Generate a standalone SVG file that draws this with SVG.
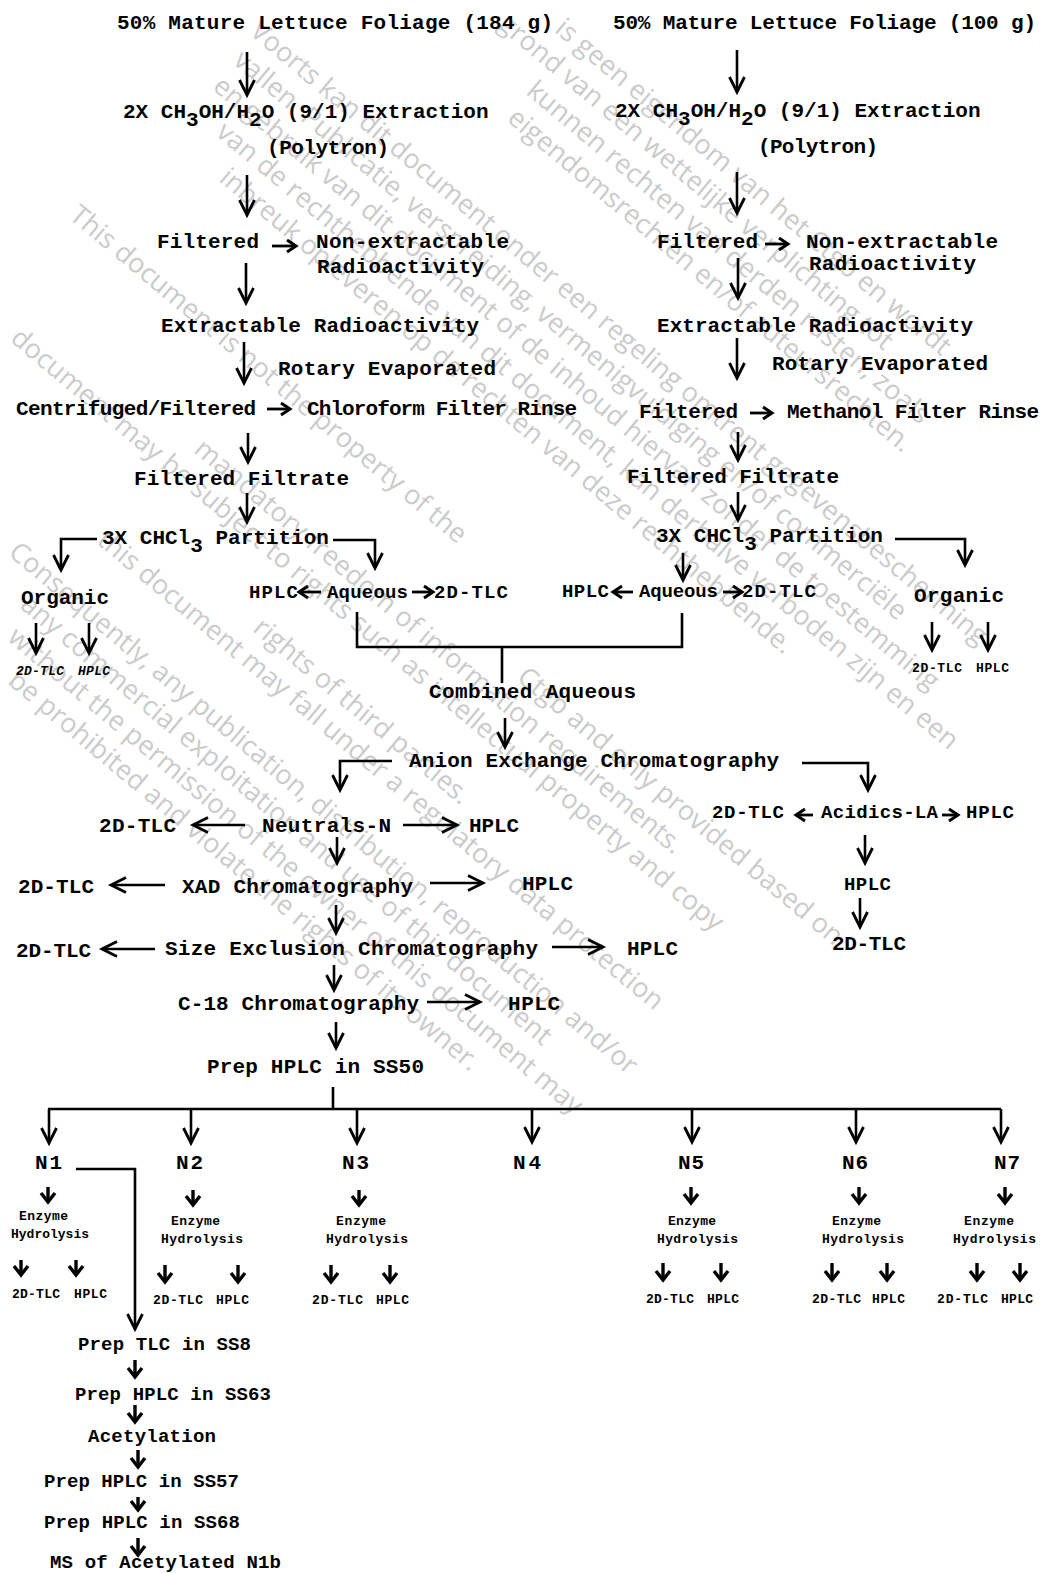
<svg xmlns="http://www.w3.org/2000/svg" width="1052" height="1573" viewBox="0 0 1052 1573">
<defs>
<style>
.t{font-family:"Liberation Mono","Courier New",monospace;font-weight:bold;font-size:21px;fill:#000}
.m{font-size:19px}
.s{font-size:13px}
.i{font-style:italic}
.c{fill:none;stroke:#000;stroke-width:2.6}
.h{fill:none;stroke:#000;stroke-width:2.8}
.c2{fill:none;stroke:#000;stroke-width:3.4}
.w{font-family:"Open Sans","Noto Sans",sans-serif;font-size:27px;fill:#cbcbcb}
</style>
<marker id="ah" markerUnits="userSpaceOnUse" viewBox="-18 -10 20 20" markerWidth="20" markerHeight="20" refX="0" refY="0" orient="auto" overflow="visible"><path d="M-15,-7.5 L0,0 L-15,7.5" fill="none" stroke="#000" stroke-width="2.8"/></marker>
<marker id="hm" markerUnits="userSpaceOnUse" viewBox="-12 -8 14 16" markerWidth="14" markerHeight="16" refX="0" refY="0" orient="auto" overflow="visible"><path d="M-9,-6 L0,0 L-9,6" fill="none" stroke="#000" stroke-width="3"/></marker>
<marker id="hs" markerUnits="userSpaceOnUse" viewBox="-12 -9 14 18" markerWidth="14" markerHeight="18" refX="0" refY="0" orient="auto" overflow="visible"><path d="M-9,-7 L0,0 L-9,7" fill="none" stroke="#000" stroke-width="3.4"/></marker>
</defs>
<rect width="1052" height="1573" fill="#fff"/>

<g id="watermark" transform="rotate(40)">
<text class="w" x="444" y="-332">is geen eigendom van het Ctgb en wordt</text>
<text class="w" x="398" y="-299">grond van een wettelijke verplichting tot</text>
<text class="w" x="462" y="-266">kunnen rechten van derden rusten, zoals</text>
<text class="w" x="465" y="-233">eigendomsrechten en/of auteursrechten.</text>
<text class="w" x="212" y="-134">Voorts kan dit document onder een regeling omtrent gegevensbescherming</text>
<text class="w" x="218" y="-101">vallen. Publicatie, verspreiding, vermenigvuldiging en/of commerciële</text>
<text class="w" x="219" y="-68">en gebruik van dit document of de inhoud hiervan zonder de toestemming</text>
<text class="w" x="251" y="-35">van de rechthebbende van dit document, kan derhalve verboden zijn en een</text>
<text class="w" x="283" y="-2">inbreuk opleveren op de rechten van deze rechthebbende.</text>
<text class="w" x="192" y="123">This document is not the property of the</text>
<text class="w" x="832" y="189">Ctgb and only provided based on</text>
<text class="w" x="438" y="222">mandatory freedom of information requirements.</text>
<text class="w" x="226" y="255">document may be subject to rights such as intellectual property and copy</text>
<text class="w" x="598" y="321">rights of third parties.</text>
<text class="w" x="422" y="354">this document may fall under a regulatory data protection</text>
<text class="w" x="362" y="420">Consequently, any publication, distribution, reproduction and/or</text>
<text class="w" x="405" y="453">any commercial exploitation and use of this document</text>
<text class="w" x="416" y="486">without the permission of the owner of this document may</text>
<text class="w" x="444" y="519">be prohibited and violate the rights of its owner.</text>
</g>

<g id="connectors">
<g class="c" marker-end="url(#ah)">
<path d="M247,52V95"/><path d="M247,175V215"/><path d="M246,263V303"/><path d="M244,342V383"/><path d="M248,433V462"/><path d="M247,493V522"/>
<path d="M97,539H61V570"/><path d="M333,540H375V568"/>
<path d="M505,718V747"/>
<path d="M392,761H340V790"/><path d="M802,763H868V790"/>
<path d="M337,837V863"/><path d="M336,905V933"/><path d="M334,965V990"/><path d="M336,1022V1048"/>
<path d="M737,50V92"/><path d="M737,172V213"/><path d="M738,258V298"/><path d="M737,338V378"/><path d="M738,432V460"/><path d="M738,492V520"/>
<path d="M895,539H965V565"/><path d="M683,553V580"/>
<path d="M865,835V863"/><path d="M860,898V927"/>
<path d="M36,623V653"/><path d="M89,623V653"/><path d="M932,622V650"/><path d="M988,622V650"/>
<path d="M49,1109V1143"/><path d="M191,1109V1143"/><path d="M357,1109V1143"/><path d="M532,1109V1142"/><path d="M692,1109V1142"/><path d="M856,1109V1142"/><path d="M1001,1109V1142"/>
<path d="M76,1169H135V1329"/>
<path d="M245,825H193"/><path d="M403,825H457"/><path d="M165,885H111"/><path d="M430,883H483"/><path d="M155,949H102"/><path d="M552,947H603"/><path d="M427,1002H480"/>
</g>
<g class="c">
<path d="M357,612V647H682V613"/><path d="M502,647V683"/><path d="M333,1087V1109"/><path d="M48,1109H1001"/>
</g>
<g class="h" marker-end="url(#hm)">
<path d="M272,246H296"/><path d="M765,244H788"/><path d="M267,409H290"/><path d="M750,413H772"/>
<path d="M321,592H299"/><path d="M412,592H433"/><path d="M633,592H613"/><path d="M723,592H742"/>
<path d="M813,815H796"/><path d="M942,815H958"/>
</g>
<g class="c2" marker-end="url(#hs)">
<path d="M48,1187V1202"/><path d="M193,1190V1205"/><path d="M359,1190V1205"/><path d="M691,1187V1203"/><path d="M859,1187V1203"/><path d="M1005,1187V1203"/>
<path d="M21,1260V1275"/><path d="M76,1260V1275"/><path d="M165,1265V1282"/><path d="M238,1265V1282"/><path d="M331,1265V1282"/><path d="M390,1265V1282"/>
<path d="M663,1263V1280"/><path d="M721,1263V1280"/><path d="M832,1263V1280"/><path d="M887,1263V1280"/><path d="M977,1263V1280"/><path d="M1020,1263V1280"/>
<path d="M135,1360V1377"/><path d="M135,1405V1422"/><path d="M138,1450V1467"/><path d="M138,1497V1510"/><path d="M138,1538V1555"/>
</g>
</g>

<g id="L-foliage"><text class="t" x="117" y="29" textLength="436">50% Mature Lettuce Foliage (184 g)</text></g>
<g id="L-extraction"><text class="t" x="123" y="118">2X CH<tspan dy="8">3</tspan><tspan dy="-8">OH/H</tspan><tspan dy="8">2</tspan><tspan dy="-8">O (9/1) Extraction</tspan></text>
<text class="t" x="267" y="154" textLength="122">(Polytron)</text></g>
<g id="L-filtered"><text class="t" x="157" y="248" textLength="102">Filtered</text></g>
<g id="L-nonextract"><text class="t" x="316" y="248" textLength="193">Non-extractable</text><text class="t" x="317" y="273" textLength="167">Radioactivity</text></g>
<g id="L-extractable"><text class="t" x="161" y="332" textLength="318">Extractable Radioactivity</text></g>
<g id="L-rotary"><text class="t" x="278" y="375" textLength="218">Rotary Evaporated</text></g>
<g id="L-centrifuged"><text class="t" x="16" y="415" textLength="240">Centrifuged/Filtered</text></g>
<g id="L-chloroform"><text class="t" x="307" y="415" textLength="270">Chloroform Filter Rinse</text></g>
<g id="L-filtrate"><text class="t" x="134" y="485" textLength="215">Filtered Filtrate</text></g>
<g id="L-partition"><text class="t" x="102" y="544">3X CHCl<tspan dy="8">3</tspan><tspan dy="-8"> Partition</tspan></text></g>
<g id="L-organic"><text class="t" x="21" y="604" textLength="88">Organic</text>
<text class="t s i" x="16" y="675" textLength="48">2D-TLC</text><text class="t s i" x="78" y="675" textLength="32">HPLC</text></g>
<g id="L-aqueous"><text class="t m" x="249" y="598" textLength="49">HPLC</text><text class="t m" x="327" y="598" textLength="81">Aqueous</text><text class="t m" x="434" y="598" textLength="74">2D-TLC</text></g>

<g id="R-foliage"><text class="t" x="613" y="29" textLength="423">50% Mature Lettuce Foliage (100 g)</text></g>
<g id="R-extraction"><text class="t" x="615" y="117">2X CH<tspan dy="8">3</tspan><tspan dy="-8">OH/H</tspan><tspan dy="8">2</tspan><tspan dy="-8">O (9/1) Extraction</tspan></text>
<text class="t" x="758" y="153" textLength="120">(Polytron)</text></g>
<g id="R-filtered"><text class="t" x="657" y="248" textLength="101">Filtered</text></g>
<g id="R-nonextract"><text class="t" x="806" y="248" textLength="192">Non-extractable</text><text class="t" x="809" y="270" textLength="167">Radioactivity</text></g>
<g id="R-extractable"><text class="t" x="657" y="332" textLength="316">Extractable Radioactivity</text></g>
<g id="R-rotary"><text class="t" x="772" y="370" textLength="216">Rotary Evaporated</text></g>
<g id="R-filtered2"><text class="t" x="639" y="418" textLength="99">Filtered</text></g>
<g id="R-methanol"><text class="t" x="787" y="418" textLength="252">Methanol Filter Rinse</text></g>
<g id="R-filtrate"><text class="t" x="627" y="483" textLength="212">Filtered Filtrate</text></g>
<g id="R-partition"><text class="t" x="656" y="542">3X CHCl<tspan dy="8">3</tspan><tspan dy="-8"> Partition</tspan></text></g>
<g id="R-aqueous"><text class="t m" x="562" y="597" textLength="47">HPLC</text><text class="t m" x="639" y="597" textLength="79">Aqueous</text><text class="t m" x="742" y="597" textLength="74">2D-TLC</text></g>
<g id="R-organic"><text class="t" x="914" y="602" textLength="90">Organic</text>
<text class="t s" x="912" y="672" textLength="50">2D-TLC</text><text class="t s" x="976" y="672" textLength="33">HPLC</text></g>

<g id="combined"><text class="t" x="429" y="698" textLength="207">Combined Aqueous</text></g>
<g id="anion"><text class="t" x="409" y="767" textLength="370">Anion Exchange Chromatography</text></g>
<g id="neutrals"><text class="t" x="99" y="832" textLength="77">2D-TLC</text><text class="t" x="262" y="832" textLength="129">Neutrals-N</text><text class="t" x="469" y="832" textLength="50">HPLC</text></g>
<g id="acidics"><text class="t m" x="712" y="818" textLength="72">2D-TLC</text><text class="t m" x="821" y="818" textLength="117">Acidics-LA</text><text class="t m" x="966" y="818" textLength="48">HPLC</text></g>
<g id="acid-hplc"><text class="t m" x="844" y="890" textLength="47">HPLC</text></g>
<g id="acid-tlc"><text class="t" x="832" y="950" textLength="74">2D-TLC</text></g>
<g id="xad"><text class="t" x="18" y="893" textLength="76">2D-TLC</text><text class="t" x="182" y="893" textLength="231">XAD Chromatography</text><text class="t" x="522" y="890" textLength="51">HPLC</text></g>
<g id="sec"><text class="t" x="16" y="957" textLength="75">2D-TLC</text><text class="t" x="165" y="955" textLength="373">Size Exclusion Chromatography</text><text class="t" x="627" y="955" textLength="51">HPLC</text></g>
<g id="c18"><text class="t" x="178" y="1010" textLength="241">C-18 Chromatography</text><text class="t" x="508" y="1010" textLength="52">HPLC</text></g>
<g id="prep50"><text class="t" x="207" y="1073" textLength="217">Prep HPLC in SS50</text></g>

<g id="N1"><text class="t" x="35" y="1169" textLength="27">N1</text>
<text class="t s" x="19" y="1220" textLength="49">Enzyme</text><text class="t s" x="11" y="1238" textLength="78">Hydrolysis</text>
<text class="t s" x="12" y="1298" textLength="48">2D-TLC</text><text class="t s" x="74" y="1298" textLength="33">HPLC</text></g>
<g id="N2"><text class="t" x="176" y="1169" textLength="27">N2</text>
<text class="t s" x="171" y="1225" textLength="49">Enzyme</text><text class="t s" x="161" y="1243" textLength="82">Hydrolysis</text>
<text class="t s" x="153" y="1304" textLength="50">2D-TLC</text><text class="t s" x="216" y="1304" textLength="33">HPLC</text></g>
<g id="N3"><text class="t" x="342" y="1169" textLength="27">N3</text>
<text class="t s" x="336" y="1225" textLength="50">Enzyme</text><text class="t s" x="326" y="1243" textLength="82">Hydrolysis</text>
<text class="t s" x="312" y="1304" textLength="51">2D-TLC</text><text class="t s" x="376" y="1304" textLength="33">HPLC</text></g>
<g id="N4"><text class="t" x="513" y="1169" textLength="28">N4</text></g>
<g id="N5"><text class="t" x="678" y="1169" textLength="26">N5</text>
<text class="t s" x="668" y="1225" textLength="48">Enzyme</text><text class="t s" x="657" y="1243" textLength="81">Hydrolysis</text>
<text class="t s" x="646" y="1303" textLength="48">2D-TLC</text><text class="t s" x="707" y="1303" textLength="32">HPLC</text></g>
<g id="N6"><text class="t" x="842" y="1169" textLength="26">N6</text>
<text class="t s" x="832" y="1225" textLength="49">Enzyme</text><text class="t s" x="822" y="1243" textLength="82">Hydrolysis</text>
<text class="t s" x="812" y="1303" textLength="49">2D-TLC</text><text class="t s" x="872" y="1303" textLength="33">HPLC</text></g>
<g id="N7"><text class="t" x="994" y="1169" textLength="26">N7</text>
<text class="t s" x="964" y="1225" textLength="50">Enzyme</text><text class="t s" x="953" y="1243" textLength="83">Hydrolysis</text>
<text class="t s" x="937" y="1303" textLength="51">2D-TLC</text><text class="t s" x="1001" y="1303" textLength="32">HPLC</text></g>

<g id="prepTLC"><text class="t m" x="78" y="1350" textLength="173">Prep TLC in SS8</text></g>
<g id="prep63"><text class="t m" x="75" y="1400" textLength="196">Prep HPLC in SS63</text></g>
<g id="acetyl"><text class="t m" x="88" y="1442" textLength="128">Acetylation</text></g>
<g id="prep57"><text class="t m" x="44" y="1487" textLength="195">Prep HPLC in SS57</text></g>
<g id="prep68"><text class="t m" x="44" y="1528" textLength="196">Prep HPLC in SS68</text></g>
<g id="ms"><text class="t m" x="50" y="1568" textLength="231">MS of Acetylated N1b</text></g>
</svg>
